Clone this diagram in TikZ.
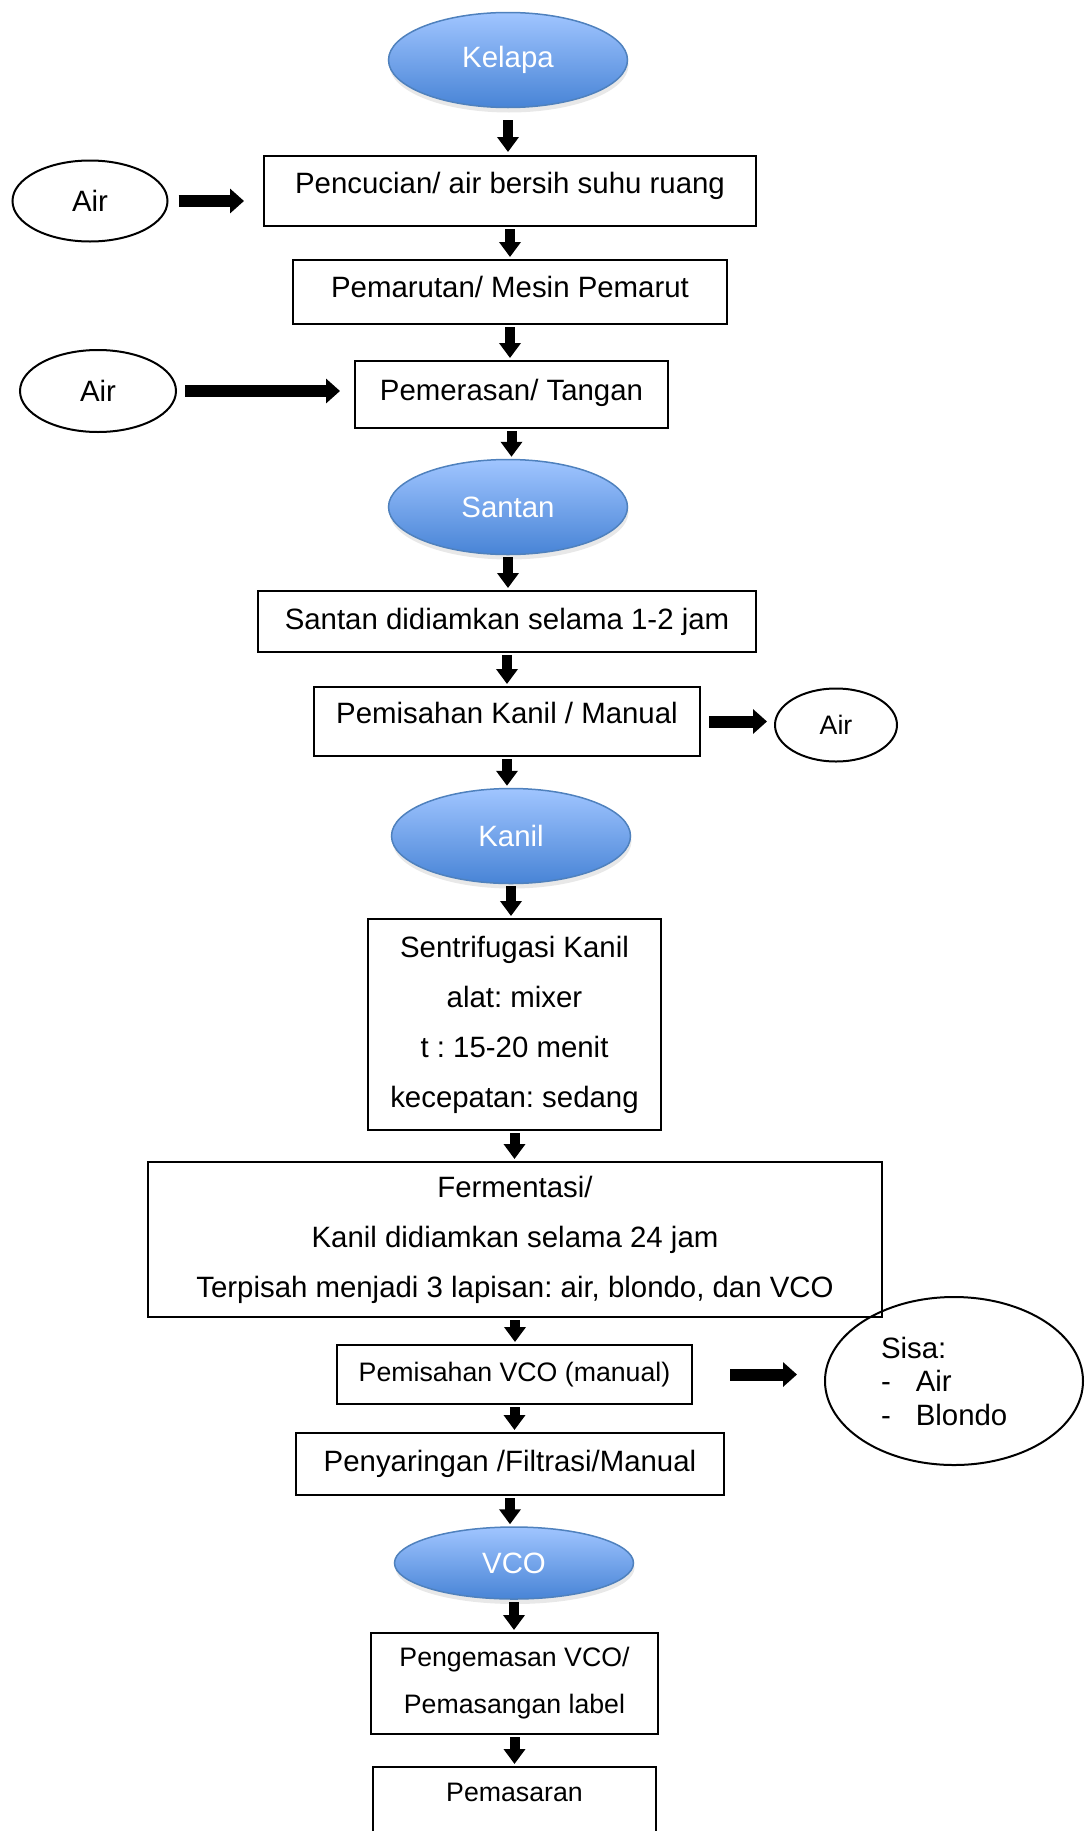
\documentclass[tikz,border=0pt]{standalone}
\usepackage{fontspec}
\setmainfont{Liberation Sans}
\frenchspacing
\usetikzlibrary{shapes.geometric,arrows.meta,shadows}

\definecolor{bluetop}{RGB}{160,197,255}
\definecolor{bluebot}{RGB}{72,132,214}
\definecolor{blueedge}{RGB}{79,129,189}

\newcommand*{\procfont}{\fontsize{29.4}{50}\selectfont}
\newcommand*{\notefont}{\fontsize{26.7}{47}\selectfont}

\tikzset{
  procbox/.style={draw, line width=2pt, align=center, font=\procfont, inner sep=0pt},
  blob/.style={ellipse, draw=blueedge, line width=1.5pt, top color=bluetop, bottom color=bluebot,
    text=white, font=\procfont, minimum width=239pt, minimum height=95pt,
    drop shadow={shadow xshift=1pt, shadow yshift=-5pt, fill=black!30, opacity=0.3}},
  sidenote/.style={ellipse, draw, line width=2pt, font=\procfont, inner sep=0pt},
  flow/.style={line width=10pt, -{Triangle[width=21pt,length=15pt]}},
  sideflow/.style={line width=12pt, -{Triangle[width=24pt,length=14pt]}}
}

\begin{document}
\begin{tikzpicture}[x=1pt, y=-1pt]

\useasboundingbox (0,0) rectangle (1085,1831);

% main line
\node[blob] (kelapa) at (508,60) {Kelapa};
\node[procbox, minimum width=492pt, minimum height=70pt, text depth=16pt] (wash) at (510,191) {Pencucian/ air bersih suhu ruang};
\node[procbox, minimum width=434pt, minimum height=64pt, text depth=11pt] (grate) at (510,292) {Pemarutan/ Mesin Pemarut};
\node[procbox, minimum width=313pt, minimum height=67pt, text depth=10pt] (squeeze) at (511.5,394.5) {Pemerasan/ Tangan};
\node[blob] (santan) at (508,507) {Santan};
\node[procbox, minimum width=498pt, minimum height=61pt] (settle) at (507,621.5) {Santan didiamkan selama 1-2 jam};
\node[procbox, minimum width=386pt, minimum height=69pt, text depth=18pt] (split) at (507,721.5) {Pemisahan Kanil / Manual};
\node[blob] (kanil) at (511,836) {Kanil};
\node[procbox, minimum width=293pt, minimum height=211pt] (spin) at (514.5,1024.5)
  {Sentrifugasi Kanil\\ alat: mixer\\ t : 15-20 menit\\ kecepatan: sedang};
\node[procbox, minimum width=734pt, minimum height=155pt] (ferment) at (515,1239.5)
  {Fermentasi/\\ Kanil didiamkan selama 24 jam\\ Terpisah menjadi 3 lapisan: air, blondo, dan VCO};
\node[procbox, font=\notefont, minimum width=355pt, minimum height=59pt] (sepvco) at (514.5,1374.5) {Pemisahan VCO (manual)};
\node[procbox, minimum width=428pt, minimum height=62pt] (filter) at (510,1464) {Penyaringan /Filtrasi/Manual};
\node[blob, minimum height=72pt] (vco) at (514,1563) {VCO};
\node[procbox, font=\notefont, minimum width=287pt, minimum height=101pt] (pack) at (514.5,1683.5)
  {Pengemasan VCO/\\ Pemasangan label};
\node[procbox, font=\notefont, minimum width=283pt, minimum height=101pt, text depth=50pt] (market) at (514.5,1817.5) {Pemasaran};

% inputs and outputs
\node[sidenote, minimum width=155pt, minimum height=81pt] (air1) at (90,201) {Air};
\node[sidenote, minimum width=156pt, minimum height=82pt] (air2) at (98,391) {Air};
\node[sidenote, font=\notefont, minimum width=122pt, minimum height=73pt] (air3) at (836,725) {Air};
\node[sidenote, align=left, text width=146pt, font=\fontsize{29.4}{33.5}\selectfont,
  minimum width=258pt, minimum height=168pt] (sisa) at (954,1381)
  {Sisa:\\ -\hspace{25pt}Air\\ -\hspace{25pt}Blondo};

% arrows
\draw[flow, shorten <=12pt, shorten >=3pt] (kelapa.south) -- (kelapa.south |- wash.north);
\foreach \a/\b in {wash/grate, grate/squeeze, squeeze/santan, santan/settle, settle/split,
  split/kanil, kanil/spin, spin/ferment, ferment/sepvco, sepvco/filter, filter/vco, vco/pack, pack/market}
  \draw[flow, shorten <=2pt, shorten >=2pt] (\a.south) -- (\a.south |- \b.north);

\draw[sideflow, shorten <=10pt, shorten >=19pt] (air1.east) -- (air1.east -| wash.west);
\draw[sideflow, shorten <=8pt, shorten >=14pt] (air2.east) -- (air2.east -| squeeze.west);
\draw[sideflow, shorten <=8pt, shorten >=7pt] (split.east) -- (split.east -| air3.west);
\draw[sideflow, shorten <=37pt, shorten >=27pt] (sepvco.east) -- (sepvco.east -| sisa.west);

\end{tikzpicture}
\end{document}
